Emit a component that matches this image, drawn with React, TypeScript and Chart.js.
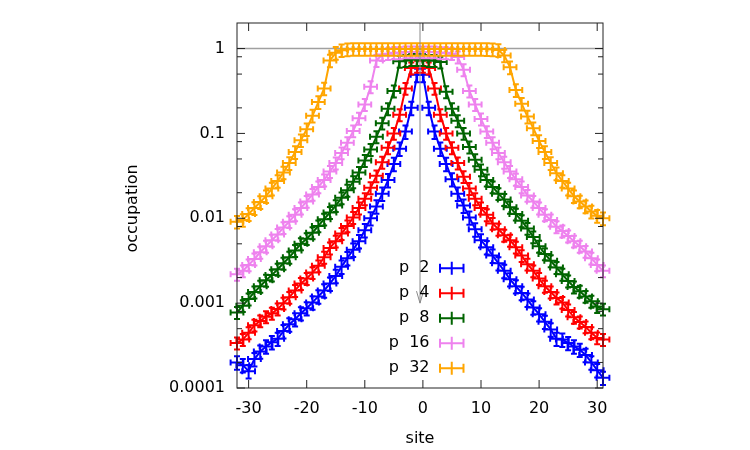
import React, { useEffect, useRef } from "react";
import { Chart, registerables } from "chart.js";

Chart.register(...registerables);

// Lattice sites (x axis)
const sites = [
  -32, -31, -30, -29, -28, -27, -26, -25, -24, -23, -22, -21, -20, -19, -18, -17,
  -16, -15, -14, -13, -12, -11, -10, -9, -8, -7, -6, -5, -4, -3, -2, -1,
  0, 1, 2, 3, 4, 5, 6, 7, 8, 9, 10, 11, 12, 13, 14, 15,
  16, 17, 18, 19, 20, 21, 22, 23, 24, 25, 26, 27, 28, 29, 30, 31,
];

// Occupation per site, one array per p
const occP2 = [
  0.0002, 0.000186, 0.000158, 0.000219, 0.000269, 0.000309, 0.000347, 0.00038,
  0.000468, 0.000562, 0.000646, 0.00076, 0.00087, 0.00102, 0.0012, 0.00141,
  0.0017, 0.00209, 0.00269, 0.00339, 0.00427, 0.00537, 0.00724, 0.01,
  0.0138, 0.0195, 0.0282, 0.0437, 0.066, 0.105, 0.2, 0.49,
  0.49, 0.2, 0.105, 0.066, 0.0437, 0.0288, 0.0195, 0.0141,
  0.0102, 0.0074, 0.0055, 0.00457, 0.00363, 0.00295, 0.0024, 0.00191,
  0.00158, 0.00132, 0.0011, 0.00089, 0.00074, 0.000603, 0.00049, 0.00038,
  0.000372, 0.000339, 0.000309, 0.000282, 0.000245, 0.0002, 0.000162, 0.000132,
];

const occP4 = [
  0.000339, 0.000372, 0.000447, 0.00055, 0.000617, 0.000692, 0.000759, 0.000851,
  0.001, 0.00117, 0.00141, 0.0017, 0.00195, 0.00229, 0.00275, 0.00347,
  0.00447, 0.00537, 0.00661, 0.00813, 0.0102, 0.0132, 0.017, 0.0229,
  0.0316, 0.0457, 0.0676, 0.1, 0.166, 0.339, 0.589, 0.617,
  0.617, 0.589, 0.339, 0.166, 0.1, 0.0676, 0.0447, 0.0309,
  0.0224, 0.017, 0.0132, 0.011, 0.0087, 0.00741, 0.00631, 0.0055,
  0.00457, 0.00363, 0.00288, 0.0024, 0.00195, 0.00158, 0.00135, 0.00115,
  0.00102, 0.00083, 0.00068, 0.0006, 0.000525, 0.000447, 0.000389, 0.000372,
];

const occP8 = [
  0.000776, 0.000933, 0.00112, 0.00135, 0.00158, 0.00186, 0.00214, 0.00251,
  0.00295, 0.00347, 0.00417, 0.00501, 0.00575, 0.00676, 0.00813, 0.00977,
  0.0117, 0.0141, 0.0174, 0.0214, 0.0269, 0.0347, 0.0479, 0.0646,
  0.0912, 0.132, 0.195, 0.316, 0.708, 0.724, 0.741, 0.741,
  0.741, 0.724, 0.724, 0.692, 0.309, 0.195, 0.141, 0.1,
  0.0692, 0.049, 0.0372, 0.0282, 0.0234, 0.0195, 0.0166, 0.0135,
  0.0112, 0.00933, 0.00759, 0.00603, 0.00468, 0.0038, 0.00316, 0.00263,
  0.00219, 0.00182, 0.00155, 0.00138, 0.0012, 0.00105, 0.00091, 0.00085,
];

const occP16 = [
  0.00219, 0.0024, 0.00282, 0.00331, 0.00398, 0.00468, 0.0055, 0.00646,
  0.00776, 0.00912, 0.011, 0.0132, 0.0158, 0.0191, 0.0234, 0.0282,
  0.0355, 0.0447, 0.0589, 0.0776, 0.107, 0.151, 0.219, 0.355,
  0.724, 0.851, 0.871, 0.891, 0.891, 0.912, 0.912, 0.912,
  0.912, 0.912, 0.912, 0.891, 0.891, 0.871, 0.794, 0.562,
  0.316, 0.219, 0.148, 0.105, 0.0776, 0.0589, 0.0457, 0.0355,
  0.0288, 0.0234, 0.0186, 0.0158, 0.0132, 0.011, 0.00955, 0.00794,
  0.00708, 0.00617, 0.00537, 0.00468, 0.00407, 0.00339, 0.00282, 0.0024,
];

const occP32 = [
  0.00912, 0.00955, 0.0112, 0.0132, 0.0155, 0.0182, 0.0224, 0.0275,
  0.0347, 0.0447, 0.0603, 0.0832, 0.112, 0.162, 0.234, 0.339,
  0.724, 0.891, 0.955, 0.98, 0.99, 0.99, 0.99, 0.99,
  0.99, 0.99, 0.99, 0.99, 0.99, 0.99, 0.99, 0.99,
  0.99, 0.99, 0.99, 0.99, 0.99, 0.99, 0.99, 0.99,
  0.99, 0.99, 0.99, 0.985, 0.98, 0.96, 0.83, 0.6,
  0.324, 0.224, 0.158, 0.115, 0.0813, 0.0603, 0.0447, 0.0339,
  0.0275, 0.0224, 0.0182, 0.0158, 0.0138, 0.012, 0.0107, 0.01,
];

const seriesValues = [occP2, occP4, occP8, occP16, occP32];
const seriesNames = ["p  2", "p  4", "p  8", "p  16", "p  32"];
const seriesColors = ["#0000ff", "#ff0000", "#006400", "#ee82ee", "#ffa500"];

// Error bars: half-width in sites, relative error in occupation
const xErr = 1.1;
const yRelErr = [0.18, 0.16, 0.16, 0.16, 0.17];

// Axis ticks
const xTickValues = [-30, -20, -10, 0, 10, 20, 30];
const xTickLabels = ["-30", "-20", "-10", "0", "10", "20", "30"];
const yTickValues = [0.0001, 0.001, 0.01, 0.1, 1];
const yTickLabels = ["0.0001", "0.001", "0.01", "0.1", "1"];
const yMinorTickValues = [
  0.0002, 0.0005, 0.0008, 0.002, 0.005, 0.008,
  0.02, 0.05, 0.08, 0.2, 0.5, 0.8,
];

// Arrow marking the centre of the lattice
const arrowSite = -0.5;
const arrowTip = 0.001;

const FONT = "'DejaVu Sans', 'Liberation Sans', sans-serif";

const framePlugin = {
  id: "gnuFrame",
  beforeDatasetsDraw(chart: any) {
    const { ctx, chartArea: a, scales } = chart;
    const py = scales.y.getPixelForValue(1);
    ctx.save();
    ctx.strokeStyle = "#a0a0a0";
    ctx.lineWidth = 1.5;
    ctx.beginPath();
    ctx.moveTo(a.left, py);
    ctx.lineTo(a.right, py);
    ctx.stroke();
    ctx.restore();
  },
  afterDatasetDraw(chart: any, args: any) {
    const k = args.index;
    const vals = seriesValues[k];
    const { ctx, scales } = chart;
    const xs = scales.x;
    const ys = scales.y;
    const rel = yRelErr[k];
    const cap = 3;
    ctx.save();
    ctx.strokeStyle = seriesColors[k];
    ctx.lineWidth = 2;
    ctx.beginPath();
    for (let i = 0; i < sites.length; i++) {
      const s = sites[i];
      const v = vals[i];
      const px = xs.getPixelForValue(s);
      const py = ys.getPixelForValue(v);
      const xl = xs.getPixelForValue(s - xErr);
      const xr = xs.getPixelForValue(s + xErr);
      const yt = ys.getPixelForValue(v * (1 + rel));
      const yb = ys.getPixelForValue(v * (1 - rel));
      ctx.moveTo(xl, py);
      ctx.lineTo(xr, py);
      ctx.moveTo(px, yt);
      ctx.lineTo(px, yb);
      ctx.moveTo(xl, py - cap);
      ctx.lineTo(xl, py + cap);
      ctx.moveTo(xr, py - cap);
      ctx.lineTo(xr, py + cap);
      ctx.moveTo(px - cap, yt);
      ctx.lineTo(px + cap, yt);
      ctx.moveTo(px - cap, yb);
      ctx.lineTo(px + cap, yb);
    }
    ctx.stroke();
    ctx.restore();
  },
  afterDraw(chart: any) {
    const { ctx, chartArea: a, scales } = chart;
    const xs = scales.x;
    const ys = scales.y;
    ctx.save();

    // centre arrow
    const ax = xs.getPixelForValue(arrowSite);
    const ay = ys.getPixelForValue(arrowTip);
    ctx.strokeStyle = "#8a8a8a";
    ctx.lineWidth = 1;
    ctx.beginPath();
    ctx.moveTo(ax, a.top);
    ctx.lineTo(ax, ay);
    ctx.moveTo(ax - 3.5, ay - 12);
    ctx.lineTo(ax, ay);
    ctx.lineTo(ax + 3.5, ay - 12);
    ctx.stroke();

    // border
    ctx.strokeStyle = "#222";
    ctx.lineWidth = 1;
    ctx.strokeRect(a.left, a.top, a.right - a.left, a.bottom - a.top);

    // ticks, pointing inward on all four sides
    const major = 8;
    const minor = 5;
    ctx.beginPath();
    for (const v of xTickValues) {
      const px = xs.getPixelForValue(v);
      ctx.moveTo(px, a.bottom);
      ctx.lineTo(px, a.bottom - major);
      ctx.moveTo(px, a.top);
      ctx.lineTo(px, a.top + major);
    }
    for (const v of yTickValues) {
      const py = ys.getPixelForValue(v);
      ctx.moveTo(a.left, py);
      ctx.lineTo(a.left + major, py);
      ctx.moveTo(a.right, py);
      ctx.lineTo(a.right - major, py);
    }
    for (const v of yMinorTickValues) {
      const py = ys.getPixelForValue(v);
      ctx.moveTo(a.left, py);
      ctx.lineTo(a.left + minor, py);
      ctx.moveTo(a.right, py);
      ctx.lineTo(a.right - minor, py);
    }
    ctx.stroke();

    // axis titles
    ctx.fillStyle = "#000";
    ctx.font = `16px ${FONT}`;
    ctx.textAlign = "center";
    ctx.textBaseline = "alphabetic";
    ctx.fillText("site", (a.left + a.right) / 2, 443);
    ctx.save();
    ctx.translate(133, (a.top + a.bottom) / 2 + 3);
    ctx.rotate(-Math.PI / 2);
    ctx.textBaseline = "middle";
    ctx.fillText("occupation", 0, 0);
    ctx.restore();

    // key
    const keyTextRight = 429.5;
    const sampleLeft = 440;
    const sampleRight = 463.5;
    const rowTop = 268.3;
    const rowStep = 25;
    ctx.textAlign = "right";
    ctx.textBaseline = "middle";
    for (let k = 0; k < seriesNames.length; k++) {
      const ry = rowTop + k * rowStep;
      ctx.fillStyle = "#000";
      ctx.fillText(seriesNames[k], keyTextRight, ry);
      ctx.strokeStyle = seriesColors[k];
      ctx.lineWidth = 2;
      const mid = (sampleLeft + sampleRight) / 2;
      ctx.beginPath();
      ctx.moveTo(sampleLeft, ry);
      ctx.lineTo(sampleRight, ry);
      ctx.moveTo(sampleLeft, ry - 4.5);
      ctx.lineTo(sampleLeft, ry + 4.5);
      ctx.moveTo(sampleRight, ry - 4.5);
      ctx.lineTo(sampleRight, ry + 4.5);
      ctx.moveTo(mid, ry - 6.5);
      ctx.lineTo(mid, ry + 6.5);
      ctx.stroke();
    }
    ctx.restore();
  },
};

export default function App() {
  const canvasRef = useRef<HTMLCanvasElement>(null);

  useEffect(() => {
    const canvas = canvasRef.current;
    if (!canvas) return;
    const chart = new Chart(canvas, {
      type: "line",
      data: {
        datasets: seriesValues.map((vals, k) => ({
          label: seriesNames[k],
          data: sites.map((s, i) => ({ x: s, y: vals[i] })),
          borderColor: seriesColors[k],
          backgroundColor: seriesColors[k],
          borderWidth: 2,
          pointRadius: 0,
          pointHoverRadius: 0,
          fill: false,
          tension: 0,
          clip: false as any,
          order: seriesValues.length - k,
        })),
      },
      options: {
        responsive: false,
        animation: false,
        events: [],
        layout: { padding: { top: 23, right: 147, bottom: 0, left: 0 } },
        plugins: {
          legend: { display: false },
          tooltip: { enabled: false },
          title: { display: false },
        },
        scales: {
          x: {
            type: "linear",
            min: -32,
            max: 31,
            grid: { display: false, drawTicks: false },
            border: { display: false },
            afterFit: (scale: any) => {
              scale.height = 62;
            },
            afterBuildTicks: (scale: any) => {
              scale.ticks = xTickValues.map((v) => ({ value: v }));
            },
            ticks: {
              autoSkip: false,
              maxRotation: 0,
              padding: 11,
              color: "#000",
              font: { family: FONT, size: 16 },
              callback: (value: any) => {
                const i = xTickValues.indexOf(Number(value));
                return i >= 0 ? xTickLabels[i] : "";
              },
            },
          },
          y: {
            type: "logarithmic",
            min: 0.0001,
            max: 2,
            grid: { display: false, drawTicks: false },
            border: { display: false },
            afterFit: (scale: any) => {
              scale.width = 237;
            },
            afterBuildTicks: (scale: any) => {
              scale.ticks = yTickValues.map((v) => ({ value: v }));
            },
            ticks: {
              autoSkip: false,
              padding: 12,
              color: "#000",
              font: { family: FONT, size: 16 },
              callback: (value: any) => {
                const i = yTickValues.indexOf(Number(value));
                return i >= 0 ? yTickLabels[i] : "";
              },
            },
          },
        },
      },
      plugins: [framePlugin],
    });
    return () => chart.destroy();
  }, []);

  return (
    <div
      style={{
        position: "absolute",
        left: 0,
        top: 0,
        width: 750,
        height: 450,
        background: "#fff",
      }}
    >
      <canvas
        ref={canvasRef}
        width={750}
        height={450}
        style={{ display: "block", width: 750, height: 450 }}
      />
    </div>
  );
}
